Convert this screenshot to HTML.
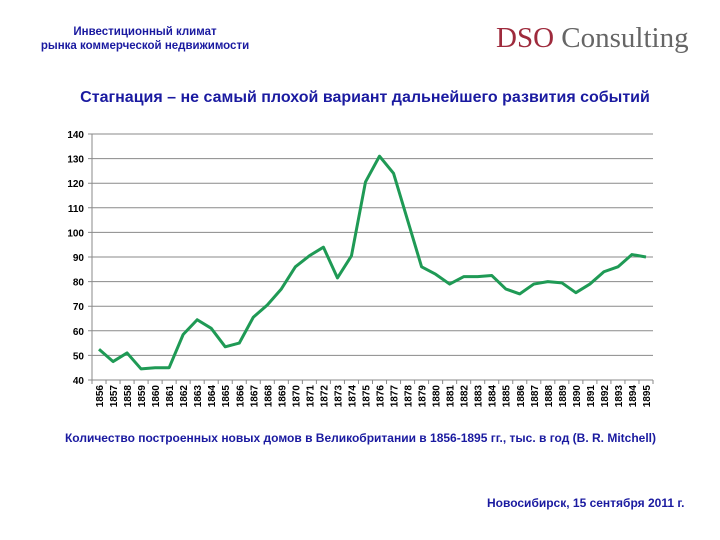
<!DOCTYPE html>
<html><head><meta charset="utf-8"><style>
body{margin:0;width:720px;height:540px;background:#fff;position:relative;overflow:hidden;font-family:"Liberation Sans",sans-serif}
.t{position:absolute;white-space:nowrap}
</style></head><body>
<div class="t" style="left:25px;top:25px;width:240px;text-align:center;color:#1a1aa0;font-size:11.5px;font-weight:bold;line-height:14px">Инвестиционный климат<br>рынка коммерческой недвижимости</div>
<div class="t" style="left:496px;top:22px;font-family:'Liberation Serif',serif;font-size:29px;color:#666"><span style="color:#9e2a3c">DSO</span> Consulting</div>
<div class="t" style="left:0;width:720px;top:89px;text-align:center;font-size:16px;font-weight:bold;color:#1a1aa0;padding-left:10px;box-sizing:border-box">Стагнация – не самый плохой вариант дальнейшего развития событий</div>
<svg width="720" height="540" style="position:absolute;left:0;top:0" id="c"></svg>
<div class="t" style="left:0;width:720px;top:431px;text-align:center;font-size:12px;font-weight:bold;color:#1a1aa0;padding-left:1px;box-sizing:border-box">Количество построенных новых домов в Великобритании в 1856-1895 гг., тыс. в год (B. R. Mitchell)</div>
<div class="t" style="left:487px;top:496px;font-size:12px;font-weight:bold;color:#1a1aa0">Новосибирск, 15 сентября 2011 г.</div>
<script>
const years=[];for(let y=1856;y<=1895;y++)years.push(String(y));
const values=[52.5,47.5,51,44.5,45,45,58.5,64.5,61,53.5,55,65.5,70.5,77,86,90.5,94,81.5,90.5,120.5,131,124,105,86,83,79,82,82,82.5,77,75,79,80,79.5,75.5,79,84,86,91,90];
const yTicks=[40,50,60,70,80,90,100,110,120,130,140];
const L=92,R=653,T=134,B=380,yMin=40,yMax=140;
const sx=i=>L+(i+0.5)*(R-L)/years.length;
const sy=v=>B-(v-yMin)/(yMax-yMin)*(B-T);
const svg=document.getElementById('c');const NS='http://www.w3.org/2000/svg';
function mk(t,a){const e=document.createElementNS(NS,t);for(const k in a)e.setAttribute(k,a[k]);svg.appendChild(e);return e;}
yTicks.forEach(v=>{
 const g=mk('line',{x1:L-4,x2:R,y1:sy(v),y2:sy(v),stroke:'#8a8a8a','stroke-width':1});
 
 
 const t=mk('text',{x:L-8,y:sy(v)+4,'text-anchor':'end','font-size':10,'font-weight':'bold','font-family':'Liberation Sans,sans-serif'});
 t.textContent=v;
 
 
});
const ax=mk('line',{x1:L,x2:L,y1:T,y2:B,stroke:'#8a8a8a'});


years.forEach((yr,i)=>{
 const x0=L+i*(R-L)/years.length;
 const tk=mk('line',{x1:x0,x2:x0,y1:B,y2:B+4,stroke:'#8a8a8a'});
 
 
 const x=sx(i);
 const t=mk('text',{x:x+4,y:B+5,'text-anchor':'end','font-size':10,'font-weight':'bold','font-family':'Liberation Sans,sans-serif',transform:`rotate(-90 ${x+4} ${B+5})`});
 t.textContent=yr;
 
 
});
const tk2=mk('line',{x1:R,x2:R,y1:B,y2:B+4,stroke:'#8a8a8a'});


const p=mk('polyline',{points:values.map((v,i)=>sx(i)+','+sy(v)).join(' '),fill:'none',stroke:'#1f9a55','stroke-width':3,'stroke-linejoin':'round'});


</script>
</body></html>
